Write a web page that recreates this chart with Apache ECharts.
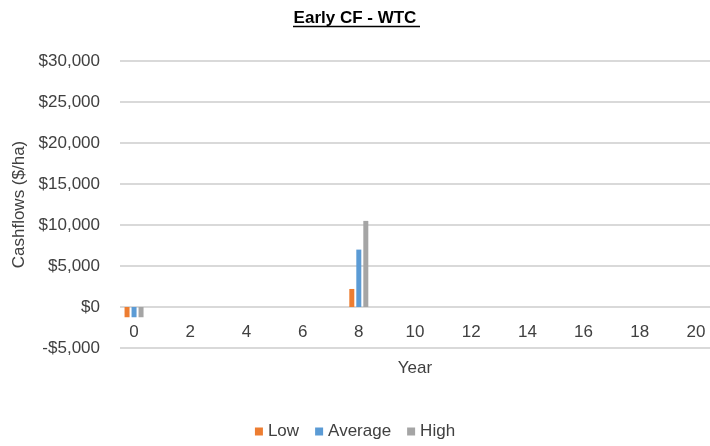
<!DOCTYPE html>
<html>
<head>
<meta charset="utf-8">
<script src="https://cdn.jsdelivr.net/npm/echarts@6/dist/echarts.min.js"></script>
<style>html,body{margin:0;padding:0;background:#fff}#c{width:710px;height:446px}</style>
</head>
<body>
<div id="c"></div>
<script>
var years = ['0','1','2','3','4','5','6','7','8','9','10','11','12','13','14','15','16','17','18','19','20'];
var lowValues     = [-1250,0,0,0,0,0,0,0,2200,0,0,0,0,0,0,0,0,0,0,0,0];
var averageValues = [-1250,0,0,0,0,0,0,0,7000,0,0,0,0,0,0,0,0,0,0,0,0];
var highValues    = [-1250,0,0,0,0,0,0,0,10500,0,0,0,0,0,0,0,0,0,0,0,0];
var seriesNames = ['Low','Average','High'];
var seriesColors = ['#ED7D31','#5B9BD5','#A5A5A5'];

var font = '"Liberation Sans", Arial, sans-serif';
var chart = echarts.init(document.getElementById('c'));
function fmt(v){
  var s = Math.abs(v).toString().replace(/\B(?=(\d{3})+(?!\d))/g, ',');
  return (v < 0 ? '-$' : '$') + s;
}
var data = [lowValues, averageValues, highValues];
chart.setOption({
  animation: false,
  backgroundColor: '#fff',
  title: {
    text: 'Early CF - WTC',
    left: 'center',
    top: 5,
    textStyle: {fontFamily: font, fontSize: 17, fontWeight: 'bold', color: '#000'}
  },
  graphic: [{
    type: 'line',
    shape: {x1: 293, y1: 26.5, x2: 420, y2: 26.5},
    style: {stroke: '#000', lineWidth: 1.5}
  }],
  legend: {
    bottom: 1,
    left: 'center',
    icon: 'rect',
    itemWidth: 8,
    itemHeight: 8,
    itemGap: 16,
    textStyle: {fontFamily: font, fontSize: 17, color: '#404040'},
    data: seriesNames
  },
  grid: {left: 120, top: 61, width: 592, height: 287},
  xAxis: {
    type: 'category',
    data: years,
    name: 'Year',
    nameLocation: 'middle',
    nameGap: 12,
    nameTextStyle: {fontFamily: font, fontSize: 17, color: '#404040'},
    axisLine: {show: false, onZero: false},
    axisTick: {show: false},
    axisLabel: {interval: 1, margin: -24, fontFamily: font, fontSize: 17, color: '#404040'}
  },
  yAxis: {
    type: 'value',
    min: -5000,
    max: 30000,
    interval: 5000,
    name: 'Cashflows ($/ha)',
    nameLocation: 'middle',
    nameGap: 92,
    nameTextStyle: {fontFamily: font, fontSize: 17, color: '#404040'},
    axisLine: {show: false},
    axisTick: {show: false},
    axisLabel: {margin: 20, fontFamily: font, fontSize: 17, color: '#404040', formatter: fmt},
    splitLine: {lineStyle: {color: '#d9d9d9', width: 2}}
  },
  series: seriesNames.map(function(n, i){
    return {
      name: n,
      type: 'bar',
      data: data[i],
      barWidth: 5,
      barGap: '40%',
      itemStyle: {color: seriesColors[i]}
    };
  })
});
</script>
</body>
</html>
